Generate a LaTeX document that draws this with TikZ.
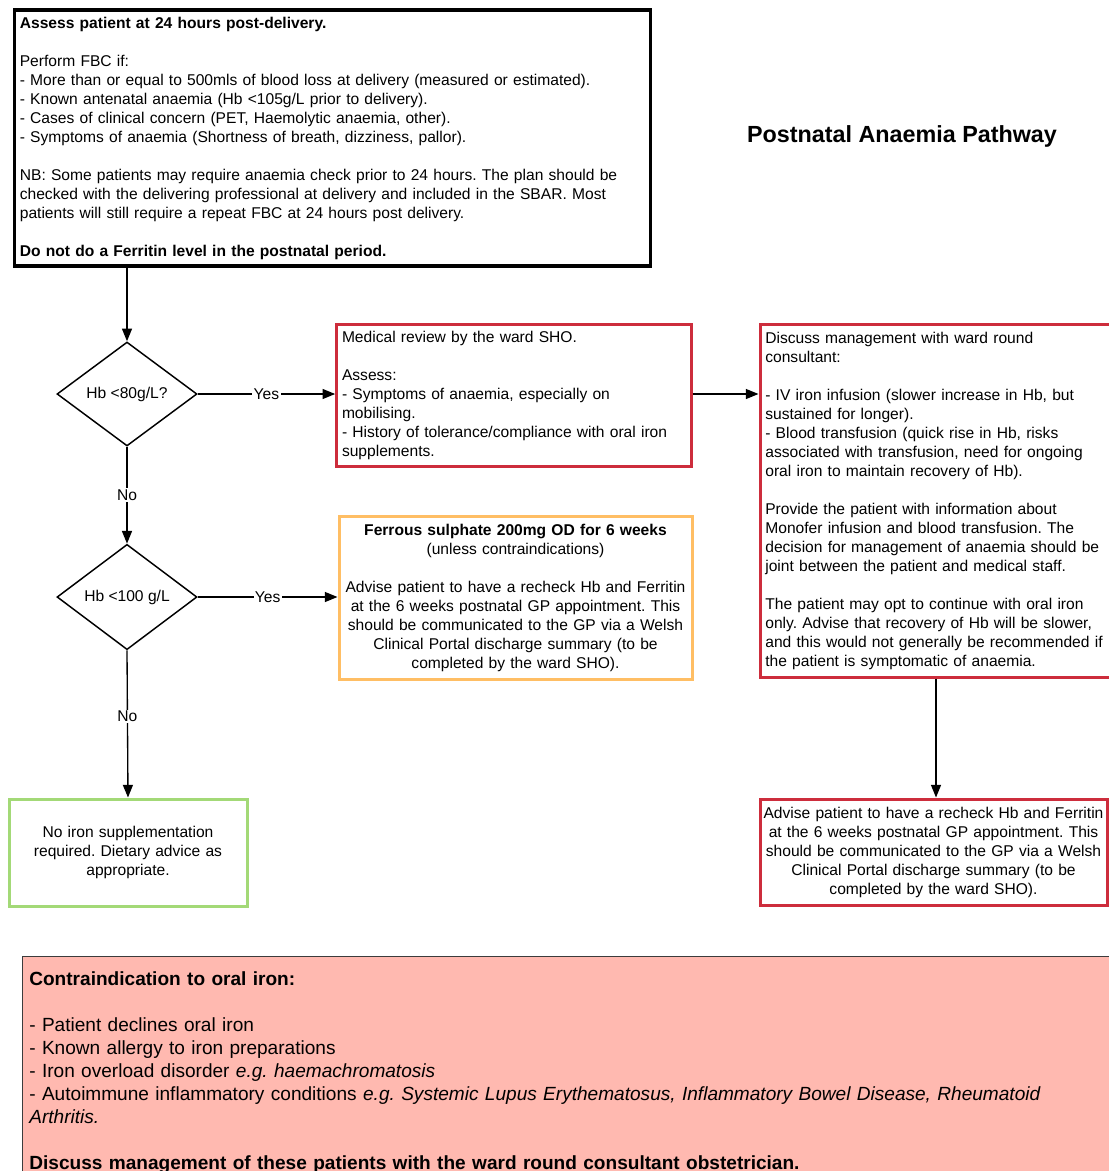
\documentclass[tikz,border=0pt]{standalone}
\usepackage{fontspec}
\setmainfont{Liberation Sans}
\usetikzlibrary{shapes.geometric,arrows.meta}
\definecolor{redc}{RGB}{205,45,60}
\definecolor{orangec}{RGB}{255,190,100}
\definecolor{greenc}{RGB}{163,217,119}
\definecolor{pinkc}{RGB}{255,185,176}
\definecolor{pinkborder}{RGB}{60,60,60}
\tikzset{
  txt/.style={font=\fontsize{11.7}{14.25}\selectfont},
  box/.style={draw, line width=2.25pt, inner xsep=4pt, inner ysep=3pt, txt},
  dec/.style={draw, diamond, line width=1.1pt, minimum width=105pt, minimum height=78pt, inner sep=1pt, txt},
  arr/.style={-{Triangle[length=9.5pt,width=7.5pt]}, line width=1pt},
  lab/.style={fill=white, inner sep=1pt, txt},
}
\begin{document}
\frenchspacing
\begin{tikzpicture}[x=0.75pt,y=-0.75pt]
\useasboundingbox (0,0) rectangle (1109,1171);
\clip (0,0) rectangle (1109,1171);

% top box
\node[box, draw=black, line width=2.6pt, minimum width=477pt, minimum height=192pt, text width=469pt, align=left] (top) at (332.5,138)
{\textbf{Assess patient at 24 hours post-delivery.}\\[14.25pt]
Perform FBC if:\\
- More than or equal to 500mls of blood loss at delivery (measured or estimated).\\
- Known antenatal anaemia (Hb <105g/L prior to delivery).\\
- Cases of clinical concern (PET, Haemolytic anaemia, other).\\
- Symptoms of anaemia (Shortness of breath, dizziness, pallor).\\[14.25pt]
NB: Some patients may require anaemia check prior to 24 hours. The plan should be\\
checked with the delivering professional at delivery and included in the SBAR. Most\\
patients will still require a repeat FBC at 24 hours post delivery.\\[14.25pt]
\textbf{Do not do a Ferritin level in the postnatal period.}};

% title
\node[font=\fontsize{17.5}{20}\selectfont\bfseries] (title) at (902,136) {Postnatal Anaemia Pathway};

% diamonds
\node[dec] (d1) at (127,394) {Hb <80g/L?};
\node[dec] (d2) at (127,597) {Hb <100 g/L};

% medical review box
\node[box, draw=redc, minimum width=265.5pt, minimum height=106.5pt, text width=258pt, align=left] (b1) at (514,395)
{Medical review by the ward SHO.\\[14.25pt]
Assess:\\
- Symptoms of anaemia, especially on\\
mobilising.\\
- History of tolerance/compliance with oral iron\\
supplements.};

% discuss box
\node[box, draw=redc, minimum width=264pt, minimum height=264.75pt, text width=256pt, align=left] (b2) at (936,500.5)
{Discuss management with ward round\\
consultant:\\[14.25pt]
- IV iron infusion (slower increase in Hb, but\\
sustained for longer).\\
- Blood transfusion (quick rise in Hb, risks\\
associated with transfusion, need for ongoing\\
oral iron to maintain recovery of Hb).\\[14.25pt]
Provide the patient with information about\\
Monofer infusion and blood transfusion. The\\
decision for management of anaemia should be\\
joint between the patient and medical staff.\\[14.25pt]
The patient may opt to continue with oral iron\\
only. Advise that recovery of Hb will be slower,\\
and this would not generally be recommended if\\
the patient is symptomatic of anaemia.};

% ferrous sulphate box
\node[box, draw=orangec, inner xsep=1pt, minimum width=264.75pt, minimum height=122.25pt, text width=262pt, align=center] (b3) at (515.5,597.5)
{\textbf{Ferrous sulphate 200mg OD for 6 weeks}\\
(unless contraindications)\\[14.25pt]
Advise patient to have a recheck Hb and Ferritin\\
at the 6 weeks postnatal GP appointment. This\\
should be communicated to the GP via a Welsh\\
Clinical Portal discharge summary (to be\\
completed by the ward SHO).};

% no iron box
\node[box, draw=greenc, inner xsep=1pt, minimum width=178.5pt, minimum height=80.25pt, text width=176pt, align=center] (g) at (128,852.5)
{No iron supplementation\\
required. Dietary advice as\\
appropriate.};

% advise box
\node[box, draw=redc, inner xsep=1pt, minimum width=260.25pt, minimum height=79.5pt, text width=258pt, align=center] (b4) at (933.5,852)
{Advise patient to have a recheck Hb and Ferritin\\
at the 6 weeks postnatal GP appointment. This\\
should be communicated to the GP via a Welsh\\
Clinical Portal discharge summary (to be\\
completed by the ward SHO).};

% contraindication box
\node[draw=pinkborder, fill=pinkc, line width=1pt, anchor=north west, inner xsep=4pt, inner ysep=11pt, minimum width=822pt, text width=812pt, align=left, font=\fontsize{14.3}{17.25}\selectfont] (ci) at (22,956)
{\textbf{Contraindication to oral iron:}\\[17.25pt]
- Patient declines oral iron\\
- Known allergy to iron preparations\\
- Iron overload disorder \textit{e.g. haemachromatosis}\\
- Autoimmune inflammatory conditions \textit{e.g. Systemic Lupus Erythematosus, Inflammatory Bowel Disease, Rheumatoid}\\
\textit{Arthritis.}\\[17.25pt]
\textbf{Discuss management of these patients with the ward round consultant obstetrician.}};

% connectors
\draw[arr] (top.south -| d1.north) -- (d1.north);
\draw[arr] (d1.east) -- node[lab] {Yes} (b1.west |- d1.east);
\draw[arr] (d1.south) -- node[lab] {No} (d2.north);
\draw[arr] (d2.east) -- node[lab] {Yes} (b3.west |- d2.east);
\draw[arr] (d2.south) -- node[lab, pos=0.45] {No} (g.north);
\draw[arr] (b1.east |- d1.east) -- (b2.west |- d1.east);
\draw[arr] (b2.south) -- (b4.north -| b2.south);
\end{tikzpicture}
\end{document}
